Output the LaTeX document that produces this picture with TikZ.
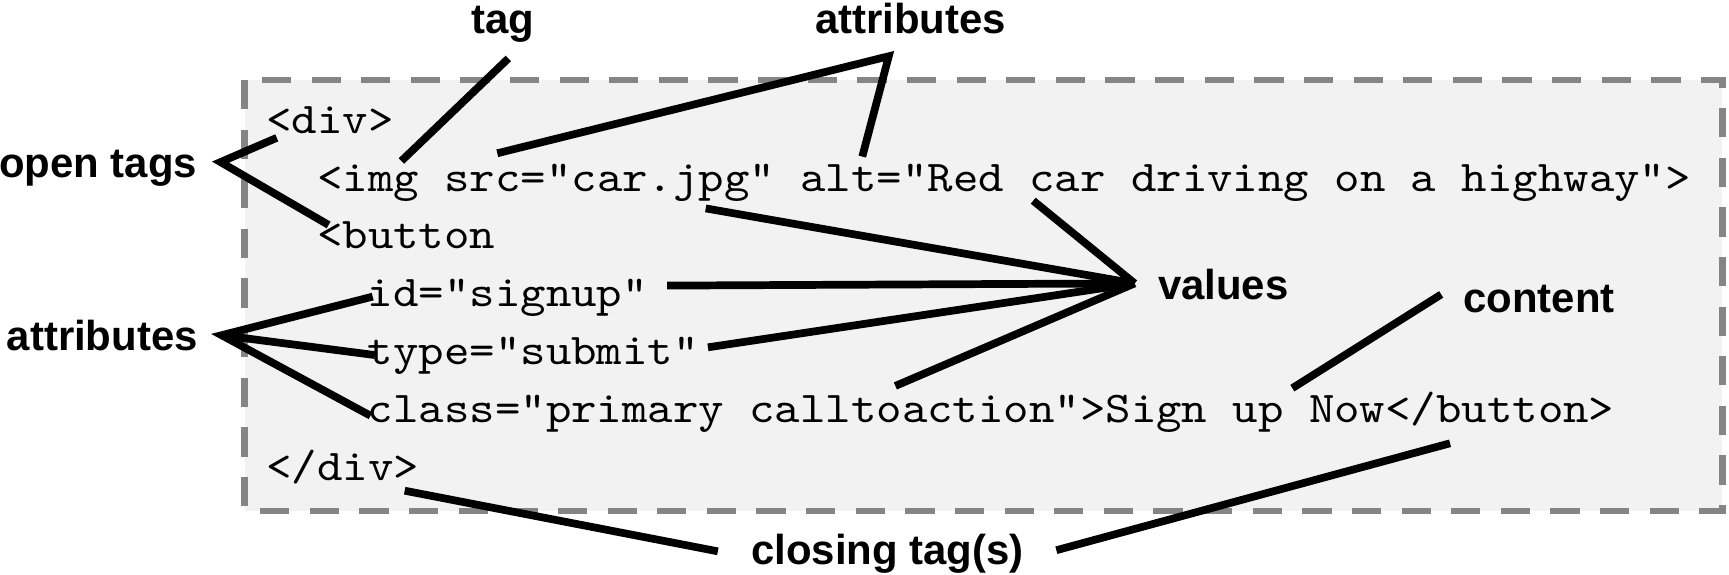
\documentclass[tikz,border=0pt]{standalone}
\usepackage{fontspec}
\newfontfamily\labfont{Liberation Sans}
\newfontfamily\codefont{lmmono10-regular.otf}[FakeStretch=1.104]
\definecolor{boxfill}{HTML}{F2F2F2}
\definecolor{boxline}{HTML}{858585}
\begin{document}
\begin{tikzpicture}[x=1pt,y=-1pt,
  codeline/.style={anchor=base west, inner sep=0pt, font=\codefont\fontsize{39.8}{40}\selectfont},
  lab/.style={anchor=base west, inner sep=0pt, font=\labfont\bfseries\fontsize{38}{40}\selectfont},
  conn/.style={line width=7pt, black, line cap=butt, line join=miter},
  frame/.style={draw=boxline, fill=boxfill, line width=6pt, dash pattern=on 26.5pt off 18.5pt}]
\useasboundingbox (0,0) rectangle (1568,521);
\fill[white] (0,0) rectangle (1568,521);
% code box
\draw[frame] (222,72.5) rectangle (1562,463.5);
% code lines
\node[codeline] (l1) at (241.5,121) {<div>};
\node[codeline] (l2) at (287.5,173.4) {<img src="car.jpg" alt="Red car driving on a highway">};
\node[codeline] (l3) at (287.5,225.8) {<button};
\node[codeline] (l4) at (333.5,278.2) {id="signup"};
\node[codeline] (l5) at (333.5,330.6) {type="submit"};
\node[codeline] (l6) at (333.5,383.0) {class="primary calltoaction">Sign up Now</button>};
\node[codeline] (l7) at (241.5,435.4) {</div>};
% labels
\node[lab] (tag) at (427,30) {tag};
\node[lab] (attrtop) at (739,30) {attributes};
\node[lab] (open) at (-1,161) {open tags};
\node[lab] (attrleft) at (6,318) {attributes};
\node[lab] (values) at (1050,272) {values};
\node[lab] (content) at (1327,283) {content};
\node[lab] (closing) at (681,512) {closing tag(s)};
% connector end points
\coordinate (tagA) at (461,53);
\coordinate (tagB) at (364,146);
\coordinate (attrSrc) at (451,139);
\coordinate (attrJ) at (806,51);
\coordinate (attrAlt) at (782,142);
\coordinate (openJ) at (200,147);
\coordinate (openDiv) at (251,125);
\coordinate (openBtn) at (298,204);
\coordinate (attJ) at (201,304);
\coordinate (attId) at (338,269);
\coordinate (attType) at (340,322);
\coordinate (attClass) at (336,377);
\coordinate (valJ) at (1029,257);
\coordinate (valCar) at (640,189);
\coordinate (valId) at (605,259);
\coordinate (valType) at (642,315);
\coordinate (valClass) at (812,350);
\coordinate (valRed) at (937,182);
\coordinate (contA) at (1307,267);
\coordinate (contB) at (1172,352);
\coordinate (closeDivA) at (367,445);
\coordinate (closeDivB) at (651,500);
\coordinate (closeBtnA) at (1315,402);
\coordinate (closeBtnB) at (958,499);
% connectors
\draw[conn] (tagA) -- (tagB);
\draw[conn] (attrSrc) -- (attrJ) -- (attrAlt);
\draw[conn] (openDiv) -- (openJ) -- (openBtn);
\draw[conn] (attId) -- (attJ) -- (attClass);
\draw[conn] (attJ) -- (attType);
\draw[conn] (valCar) -- (valJ);
\draw[conn] (valId) -- (valJ);
\draw[conn] (valType) -- (valJ);
\draw[conn] (valClass) -- (valJ);
\draw[conn] (valRed) -- (valJ);
\draw[conn] (contA) -- (contB);
\draw[conn] (closeDivA) -- (closeDivB);
\draw[conn] (closeBtnA) -- (closeBtnB);
\end{tikzpicture}
\end{document}
